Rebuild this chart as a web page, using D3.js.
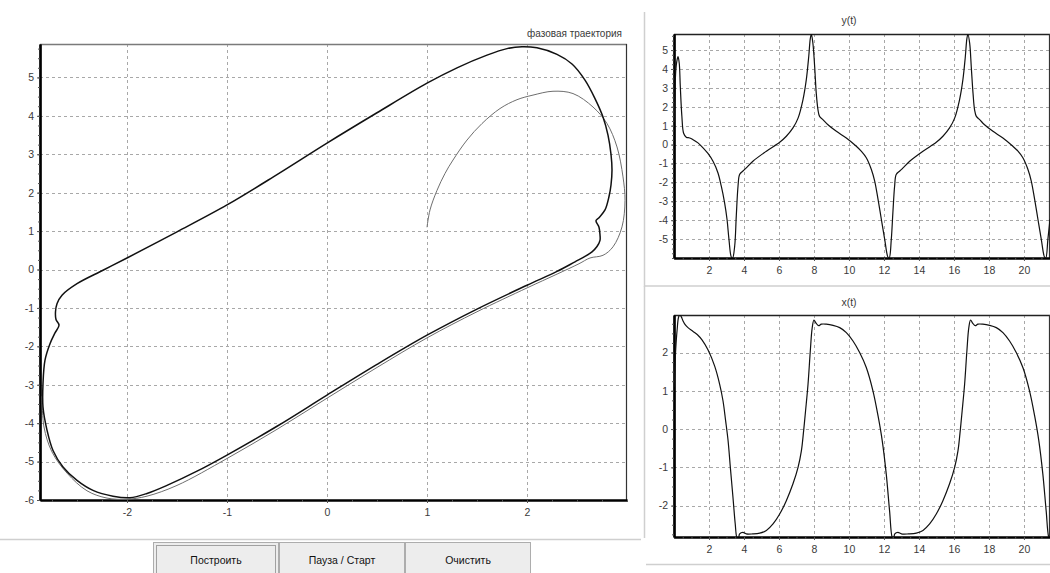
<!DOCTYPE html>
<html>
<head>
<meta charset="utf-8">
<script src="https://cdn.jsdelivr.net/npm/d3@7/dist/d3.min.js"></script>
<style>
  html, body { margin: 0; padding: 0; background: #ffffff; }
  svg { display: block; font-family: "Liberation Sans", Arial, sans-serif; }
</style>
</head>
<body>
<svg id="chart" width="1050" height="573"></svg>
<script>
// ---- phase trajectory: limit cycle (clockwise, starting at the top) ----
const cycleX = [1.95, 2.10, 2.30, 2.45, 2.58, 2.68, 2.76, 2.81, 2.84, 2.85, 2.84, 2.82, 2.78, 2.72, 2.69, 2.72, 2.73, 2.73, 2.70, 2.65, 2.58, 2.48, 2.30, 2.00, 1.50, 1.00, 0.50, 0.00, -0.50, -1.00, -1.30, -1.60, -1.80, -1.97, -2.14, -2.34, -2.50, -2.64, -2.74, -2.80, -2.84, -2.84, -2.82, -2.77, -2.72, -2.68, -2.71, -2.715, -2.70, -2.65, -2.50, -2.24, -2.00, -1.50, -1.00, -0.50, 0.00, 0.50, 1.00, 1.30, 1.60, 1.80];
const cycleY = [5.80, 5.77, 5.60, 5.35, 4.93, 4.45, 3.97, 3.50, 3.00, 2.59, 2.20, 1.90, 1.55, 1.35, 1.27, 1.10, 0.90, 0.76, 0.60, 0.46, 0.34, 0.20, -0.05, -0.41, -1.03, -1.71, -2.47, -3.27, -4.08, -4.83, -5.25, -5.62, -5.83, -5.94, -5.90, -5.75, -5.49, -5.14, -4.71, -4.18, -3.58, -2.97, -2.36, -1.93, -1.65, -1.45, -1.30, -1.10, -0.89, -0.67, -0.37, -0.02, 0.30, 0.98, 1.68, 2.47, 3.29, 4.08, 4.85, 5.25, 5.58, 5.75];

// ---- phase trajectory: start-up transient from (1, 1.1) until it settles ----
const transX = [1.00, 1.03, 1.10, 1.18, 1.26, 1.40, 1.55, 1.73, 1.90, 2.06, 2.26, 2.46, 2.66, 2.80, 2.90, 2.96, 2.98, 2.95, 2.86, 2.76, 2.63, 2.52, 2.30, 2.00, 1.50, 1.00, 0.50, 0.00, -0.50, -1.00, -1.50, -1.80, -2.00, -2.20, -2.40, -2.60, -2.75, -2.83, -2.85];
const transY = [1.10, 1.55, 2.06, 2.50, 2.85, 3.37, 3.80, 4.19, 4.42, 4.54, 4.64, 4.58, 4.23, 3.80, 3.19, 2.41, 1.80, 1.11, 0.59, 0.37, 0.30, 0.15, -0.12, -0.48, -1.10, -1.78, -2.55, -3.35, -4.16, -4.92, -5.62, -5.90, -5.98, -5.95, -5.76, -5.30, -4.75, -4.10, -3.30];

// ---- y(t) ----
const ytT = [0.00, 0.05, 0.10, 0.16, 0.23, 0.30, 0.36, 0.45, 0.55, 0.70, 0.90, 1.09, 1.37, 1.66, 1.94, 2.23, 2.51, 2.70, 2.89, 3.03, 3.14, 3.28, 3.35, 3.47, 3.56, 3.66, 3.75, 3.94, 4.13, 4.51, 5.28, 6.04, 6.42, 6.80, 7.09, 7.37, 7.56, 7.70, 7.79, 7.85, 7.94, 8.04, 8.13, 8.23, 8.32, 8.51, 8.80, 9.28, 9.85, 10.42, 10.70, 10.99, 11.28, 11.47, 11.66, 11.85, 12.04, 12.23, 12.30, 12.42, 12.51, 12.61, 12.70, 12.90, 13.09, 13.47, 14.23, 14.99, 15.37, 15.75, 16.04, 16.32, 16.51, 16.65, 16.74, 16.80, 16.90, 16.99, 17.09, 17.18, 17.28, 17.47, 17.75, 18.23, 18.80, 19.37, 19.66, 19.94, 20.23, 20.42, 20.61, 20.80, 20.99, 21.18, 21.25, 21.37, 21.49];
const ytY = [1.20, 2.50, 3.90, 4.40, 4.65, 4.30, 3.07, 1.50, 0.60, 0.39, 0.35, 0.26, 0.09, -0.17, -0.47, -0.88, -1.49, -2.19, -3.07, -3.95, -5.00, -5.96, -6.00, -5.35, -3.77, -2.19, -1.58, -1.40, -1.23, -0.88, -0.35, 0.12, 0.44, 0.88, 1.40, 2.37, 3.42, 4.65, 5.61, 5.84, 5.35, 4.12, 2.72, 1.84, 1.49, 1.32, 1.05, 0.70, 0.35, -0.09, -0.35, -0.70, -1.32, -1.93, -2.89, -3.95, -5.00, -5.96, -6.00, -5.00, -3.60, -2.19, -1.58, -1.40, -1.23, -0.88, -0.35, 0.12, 0.44, 0.88, 1.40, 2.37, 3.42, 4.65, 5.61, 5.84, 5.35, 4.12, 2.72, 1.84, 1.49, 1.32, 1.05, 0.70, 0.35, -0.09, -0.35, -0.70, -1.32, -1.93, -2.89, -3.95, -5.00, -5.96, -6.00, -5.00, -3.95];

// ---- x(t) ----
const xtT = [0.00, 0.05, 0.10, 0.18, 0.26, 0.33, 0.42, 0.51, 0.65, 0.80, 1.09, 1.37, 1.60, 1.94, 2.32, 2.61, 2.80, 2.95, 3.09, 3.22, 3.37, 3.50, 3.60, 3.68, 3.75, 3.94, 4.13, 4.50, 4.90, 5.28, 5.66, 6.04, 6.42, 6.80, 7.09, 7.28, 7.41, 7.52, 7.66, 7.79, 7.90, 8.00, 8.13, 8.27, 8.42, 8.70, 9.09, 9.47, 9.85, 10.23, 10.61, 10.99, 11.37, 11.66, 11.90, 12.13, 12.32, 12.48, 12.55, 12.62, 12.80, 13.00, 13.40, 13.85, 14.23, 14.61, 14.99, 15.37, 15.75, 16.04, 16.23, 16.36, 16.47, 16.61, 16.74, 16.85, 16.95, 17.08, 17.22, 17.37, 17.65, 18.04, 18.42, 18.80, 19.18, 19.56, 19.94, 20.32, 20.61, 20.85, 21.08, 21.27, 21.43, 21.49];
const xtX = [1.10, 1.60, 2.10, 2.60, 2.92, 2.98, 2.93, 2.83, 2.72, 2.65, 2.55, 2.45, 2.33, 2.07, 1.65, 1.17, 0.74, 0.22, -0.30, -1.00, -1.78, -2.48, -2.84, -2.86, -2.74, -2.70, -2.74, -2.74, -2.72, -2.65, -2.48, -2.22, -1.87, -1.43, -1.00, -0.57, -0.04, 0.48, 1.17, 2.04, 2.65, 2.85, 2.76, 2.70, 2.74, 2.74, 2.71, 2.65, 2.52, 2.30, 2.00, 1.61, 1.00, 0.35, -0.30, -1.17, -2.13, -2.84, -2.86, -2.74, -2.70, -2.74, -2.74, -2.72, -2.65, -2.48, -2.22, -1.87, -1.43, -1.00, -0.57, -0.04, 0.48, 1.17, 2.04, 2.65, 2.85, 2.76, 2.70, 2.74, 2.74, 2.71, 2.65, 2.52, 2.30, 2.00, 1.61, 1.00, 0.35, -0.30, -1.17, -2.13, -2.84, -2.86];

// ---- axes ----
const phaseXTicks = [-2, -1, 0, 1, 2];
const phaseYTicks = [-6, -5, -4, -3, -2, -1, 0, 1, 2, 3, 4, 5];
const timeTicks = [2, 4, 6, 8, 10, 12, 14, 16, 18, 20];
const ytTicks = [-5, -4, -3, -2, -1, 0, 1, 2, 3, 4, 5];
const xtTicks = [-2, -1, 0, 1, 2];

const titles = { phase: "фазовая траектория", y: "y(t)", x: "x(t)" };
const buttons = ["Построить", "Пауза / Старт", "Очистить"];

const svg = d3.select("#chart");
const GRID = "#a8a8a8";
const TXT = "#3a3a3a";
const FS = 10.5;

function range(a, b, step) {
  const out = [];
  for (let v = a; v <= b + 1e-9; v += step) out.push(+v.toFixed(4));
  return out;
}

// One framed plot with dashed grid, thick left/bottom axes and minor ticks.
function plotFrame(g, id, xs, ys, xTicks, yTicks, xMinorStep, yMinorStep, topColor) {
  const [x0, x1] = xs.range();
  const [y1, y0] = ys.range();
  g.append("clipPath").attr("id", id).append("rect")
    .attr("x", x0).attr("y", y0).attr("width", x1 - x0).attr("height", y1 - y0);

  const grid = g.append("g").attr("stroke", GRID).attr("stroke-width", 1)
    .attr("stroke-dasharray", "3,3");
  grid.selectAll("line.v").data(xTicks).join("line")
    .attr("x1", d => Math.round(xs(d)) + 0.5).attr("x2", d => Math.round(xs(d)) + 0.5)
    .attr("y1", y0).attr("y2", y1);
  grid.selectAll("line.h").data(yTicks).join("line")
    .attr("y1", d => Math.round(ys(d)) + 0.5).attr("y2", d => Math.round(ys(d)) + 0.5)
    .attr("x1", x0).attr("x2", x1);

  // top and right border
  g.append("line").attr("x1", x0).attr("x2", x1).attr("y1", y0 + 0.5).attr("y2", y0 + 0.5)
    .attr("stroke", topColor).attr("stroke-width", 1.5);
  g.append("line").attr("x1", x1 - 0.5).attr("x2", x1 - 0.5).attr("y1", y0).attr("y2", y1)
    .attr("stroke", "#333").attr("stroke-width", 1.2);

  const xd = xs.domain(), yd = ys.domain();
  const xMinor = range(Math.ceil(xd[0] / xMinorStep) * xMinorStep, xd[1], xMinorStep);
  const yMinor = range(Math.ceil(yd[0] / yMinorStep) * yMinorStep, yd[1], yMinorStep);
  const fmt = d => String(d);

  const bottom = g.append("g").attr("transform", `translate(0,${y1})`)
    .call(d3.axisBottom(xs).tickValues(xTicks).tickSize(3).tickSizeOuter(0).tickPadding(6)
      .tickFormat(fmt));
  const bottomMinor = g.append("g").attr("transform", `translate(0,${y1})`)
    .call(d3.axisBottom(xs).tickValues(xMinor).tickSize(2).tickSizeOuter(0).tickFormat(""));
  const left = g.append("g").attr("transform", `translate(${x0},0)`)
    .call(d3.axisLeft(ys).tickValues(yTicks).tickSize(3).tickSizeOuter(0).tickPadding(3)
      .tickFormat(fmt));
  const leftMinor = g.append("g").attr("transform", `translate(${x0},0)`)
    .call(d3.axisLeft(ys).tickValues(yMinor).tickSize(2).tickSizeOuter(0).tickFormat(""));

  [bottom, bottomMinor, left, leftMinor].forEach(a => {
    a.select(".domain").attr("stroke", "#000").attr("stroke-width", 2.2);
    a.selectAll(".tick line").attr("stroke", "#555");
    a.selectAll(".tick text").attr("fill", TXT).attr("font-size", FS)
      .attr("font-family", "Liberation Sans, Arial, sans-serif");
  });
}

// ---------------- phase plane ----------------
const px = d3.scaleLinear().domain([-2.87, 3.0]).range([40, 627]);
const py = d3.scaleLinear().domain([-6.0, 5.87]).range([500, 44]);
const gPhase = svg.append("g");
plotFrame(gPhase, "clipPhase", px, py, phaseXTicks, phaseYTicks, 0.25, 0.25, "#7a7a7a");

const phaseLine = d3.line().x(d => px(d[0])).y(d => py(d[1]))
  .curve(d3.curveCatmullRom.alpha(0.5));
const phaseLoop = d3.line().x(d => px(d[0])).y(d => py(d[1]))
  .curve(d3.curveCatmullRomClosed.alpha(0.5));

const plotPhase = gPhase.append("g").attr("clip-path", "url(#clipPhase)");
plotPhase.append("path")
  .attr("d", phaseLine(transX.map((v, i) => [v, transY[i]])))
  .attr("fill", "none").attr("stroke", "#6e6e6e").attr("stroke-width", 1);
plotPhase.append("path")
  .attr("d", phaseLoop(cycleX.map((v, i) => [v, cycleY[i]])))
  .attr("fill", "none").attr("stroke", "#111").attr("stroke-width", 1.5);

gPhase.append("text").attr("x", 622).attr("y", 37).attr("text-anchor", "end")
  .attr("font-size", 10).attr("fill", TXT).text(titles.phase);

// ---------------- time plots ----------------
const tScale = d3.scaleLinear().domain([0, 21.49]).range([674, 1050]);

function timePlot(id, yDomain, yRange, ticks, tArr, vArr, title, titleY) {
  const ys = d3.scaleLinear().domain(yDomain).range(yRange);
  const g = svg.append("g");
  plotFrame(g, id, tScale, ys, timeTicks, ticks, 0.5, 0.25, "#222");
  const line = d3.line().x(d => tScale(d[0])).y(d => ys(d[1]))
    .curve(d3.curveCatmullRom.alpha(0.5));
  g.append("g").attr("clip-path", `url(#${id})`).append("path")
    .attr("d", line(tArr.map((v, i) => [v, vArr[i]])))
    .attr("fill", "none").attr("stroke", "#111").attr("stroke-width", 1.2);
  g.append("text").attr("x", 849).attr("y", titleY).attr("text-anchor", "middle")
    .attr("font-size", FS).attr("fill", TXT).text(title);
}

timePlot("clipY", [-6.0, 5.85], [258, 34], ytTicks, ytT, ytY, titles.y, 24);
timePlot("clipX", [-2.82, 2.98], [537, 315], xtTicks, xtT, xtX, titles.x, 306);

// ---------------- panel borders ----------------
const border = svg.append("g").attr("stroke", "#cfcfcf").attr("stroke-width", 1.5).attr("fill", "none");
border.append("path").attr("d", "M644.5,12 V286 H1050");
border.append("path").attr("d", "M644.5,286 V538");
border.append("path").attr("d", "M646,564.5 H1050");
border.append("path").attr("d", "M0,539.5 H641");

// ---------------- buttons ----------------
const btnX = [153, 279, 405];
const gb = svg.append("g");
buttons.forEach((label, i) => {
  const b = gb.append("g").attr("transform", `translate(${btnX[i]},542)`);
  b.append("rect").attr("x", 0.5).attr("y", 0.5).attr("width", 125).attr("height", 40)
    .attr("fill", "#ededed").attr("stroke", "#adadad");
  if (i === 0) {
    b.append("rect").attr("x", 3.5).attr("y", 3.5).attr("width", 119).attr("height", 34)
      .attr("fill", "none").attr("stroke", "#555").attr("stroke-dasharray", "1,1");
  }
  b.append("text").attr("x", 63).attr("y", 22).attr("text-anchor", "middle")
    .attr("font-size", FS).attr("fill", "#111").text(label);
});
</script>
</body>
</html>
